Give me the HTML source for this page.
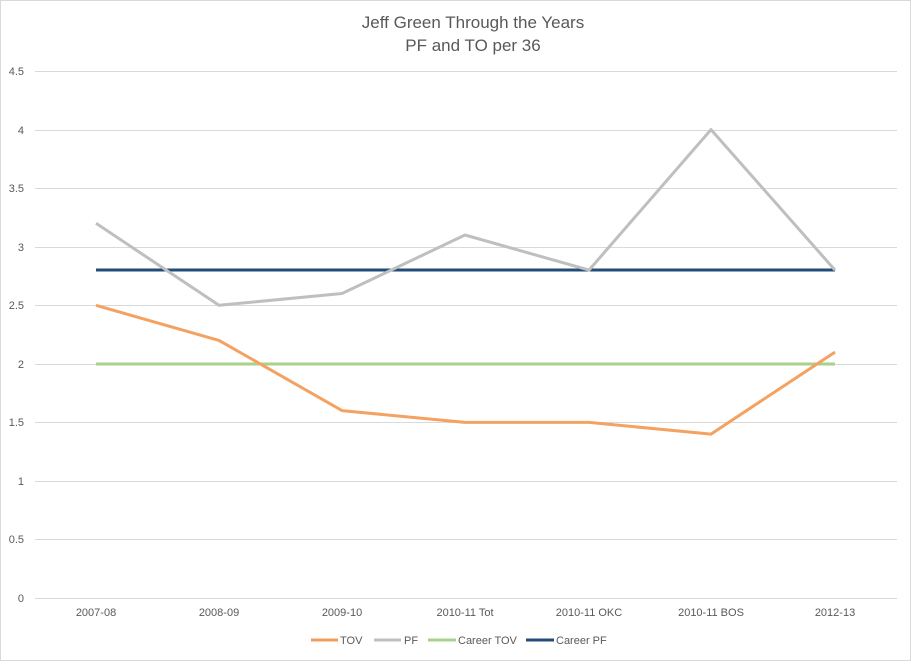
<!DOCTYPE html>
<html><head><style>body{margin:0;background:#fff}</style></head><body>
<svg width="911" height="661" xmlns="http://www.w3.org/2000/svg" font-family="Liberation Sans, sans-serif">
<rect x="0.5" y="0.5" width="910" height="660" fill="#fff" stroke="#d9d9d9"/>
<text x="473" y="28" text-anchor="middle" font-size="17" fill="#595959">Jeff Green Through the Years</text>
<text x="473" y="51" text-anchor="middle" font-size="17" fill="#595959">PF and TO per 36</text>
<g stroke="#d9d9d9" stroke-width="1">
<line x1="35" x2="897" y1="71.5" y2="71.5"/><line x1="35" x2="897" y1="130.5" y2="130.5"/>
<line x1="35" x2="897" y1="188.5" y2="188.5"/><line x1="35" x2="897" y1="247.5" y2="247.5"/>
<line x1="35" x2="897" y1="305.5" y2="305.5"/><line x1="35" x2="897" y1="364.5" y2="364.5"/>
<line x1="35" x2="897" y1="422.5" y2="422.5"/><line x1="35" x2="897" y1="481.5" y2="481.5"/>
<line x1="35" x2="897" y1="539.5" y2="539.5"/><line x1="35" x2="897" y1="598.5" y2="598.5"/>
</g>
<g font-size="11" fill="#595959" text-anchor="end">
<text x="24" y="75">4.5</text><text x="24" y="134">4</text><text x="24" y="192">3.5</text>
<text x="24" y="251">3</text><text x="24" y="309">2.5</text><text x="24" y="368">2</text>
<text x="24" y="426">1.5</text><text x="24" y="485">1</text><text x="24" y="543">0.5</text><text x="24" y="602">0</text>
</g>
<g font-size="11" fill="#595959" text-anchor="middle">
<text x="96" y="616">2007-08</text><text x="219" y="616">2008-09</text><text x="342" y="616">2009-10</text>
<text x="465" y="616">2010-11 Tot</text><text x="589" y="616">2010-11 OKC</text><text x="711" y="616">2010-11 BOS</text><text x="835" y="616">2012-13</text>
</g>
<g fill="none" stroke-width="3" stroke-linejoin="round">
<polyline stroke="#a9d18e" points="96,364 835,364"/>
<polyline stroke="#1f4e79" points="96,270 835,270"/>
<polyline stroke="#bfbfbf" points="96,223.3 219,305.3 342,293.5 465,235 589,270.1 711,129.6 835,270.1"/>
<polyline stroke="#f4a261" stroke="#f19c5b" points="96,305.3 219,340.4 342,410.6 465,422.4 589,422.4 711,434.1 835,352.1"/>
</g>
<g stroke-width="3">
<line x1="311" x2="338" y1="640" y2="640" stroke="#f19c5b"/>
<line x1="374" x2="401" y1="640" y2="640" stroke="#bfbfbf"/>
<line x1="428" x2="456" y1="640" y2="640" stroke="#a9d18e"/>
<line x1="526" x2="554" y1="640" y2="640" stroke="#1f4e79"/>
</g>
<g font-size="11" fill="#595959">
<text x="340" y="644">TOV</text><text x="404" y="644">PF</text><text x="458" y="644">Career TOV</text><text x="556" y="644">Career PF</text>
</g>
</svg>
</body></html>
